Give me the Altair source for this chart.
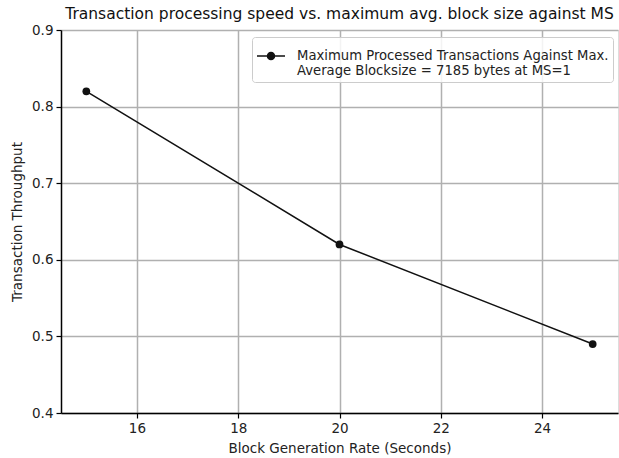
import altair as alt
import pandas as pd

rate = [15, 20, 25]
throughput = [0.82, 0.62, 0.49]
series_name = "Maximum Processed Transactions Against Max.|Average Blocksize = 7185 bytes at MS=1"

df = pd.DataFrame({"rate": rate, "throughput": throughput, "series": [series_name] * len(rate)})

font = "DejaVu Sans"
txt = "#222222"

chart = alt.Chart(df).mark_line(
    color="#111111", strokeWidth=1.5,
    point=alt.OverlayMarkDef(filled=True, size=60, color="#111111", opacity=1)
).encode(
    x=alt.X("rate:Q", scale=alt.Scale(domain=[14.5, 25.5], nice=False, zero=False),
            axis=alt.Axis(title="Block Generation Rate (Seconds)", values=[16, 18, 20, 22, 24],
                          format="d", grid=True, gridColor="#b0b0b0", gridWidth=1.5,
                          domainColor="black", domainWidth=1.5, tickColor="black", tickSize=5,
                          tickWidth=1.2, labelFont=font, labelFontSize=13.5, labelColor=txt,
                          labelPadding=3, titleFont=font, titleFontSize=13.5, titleFontWeight="normal",
                          titleColor=txt, titlePadding=7)),
    y=alt.Y("throughput:Q", scale=alt.Scale(domain=[0.4, 0.9], nice=False, zero=False),
            axis=alt.Axis(title="Transaction Throughput", values=[0.4, 0.5, 0.6, 0.7, 0.8, 0.9],
                          format=".1f", grid=True, gridColor="#b0b0b0", gridWidth=1.5,
                          domainColor="black", domainWidth=1.5, tickColor="black", tickSize=5,
                          tickWidth=1.2, labelFont=font, labelFontSize=13.5, labelColor=txt,
                          labelPadding=3, titleFont=font, titleFontSize=13.5, titleFontWeight="normal",
                          titleColor=txt, titlePadding=7)),
    color=alt.Color("series:N", scale=alt.Scale(range=["#111111"]),
                    legend=alt.Legend(title=None, orient="none", legendX=191, legendY=7,
                                      labelExpr="split(datum.label, '|')",
                                      labelFont=font, labelFontSize=13.2, labelColor=txt,
                                      labelLimit=600, labelOffset=11,
                                      symbolType="M-1,0H1M0.25,0A0.25,0.25 0 1,1 -0.25,0A0.25,0.25 0 1,1 0.25,0",
                                      symbolSize=784, symbolStrokeWidth=1.5,
                                      symbolFillColor="#111111", symbolStrokeColor="#111111",
                                      fillColor="rgba(255,255,255,0.85)", strokeColor="#cccccc",
                                      cornerRadius=3, padding=4)),
).properties(
    width=557, height=383,
    title=alt.TitleParams("Transaction processing speed vs. maximum avg. block size against MS",
                          font=font, fontSize=15.5, fontWeight="normal", color="#111111",
                          anchor="middle", offset=1),
    autosize=alt.AutoSizeParams(type="none"),
    padding={"left": 61, "top": 30, "right": 1, "bottom": 45},
).configure_view(stroke="black", strokeWidth=1.5).configure(background="white")

chart.save("out.html", embed_options={"renderer": "svg", "actions": False})
